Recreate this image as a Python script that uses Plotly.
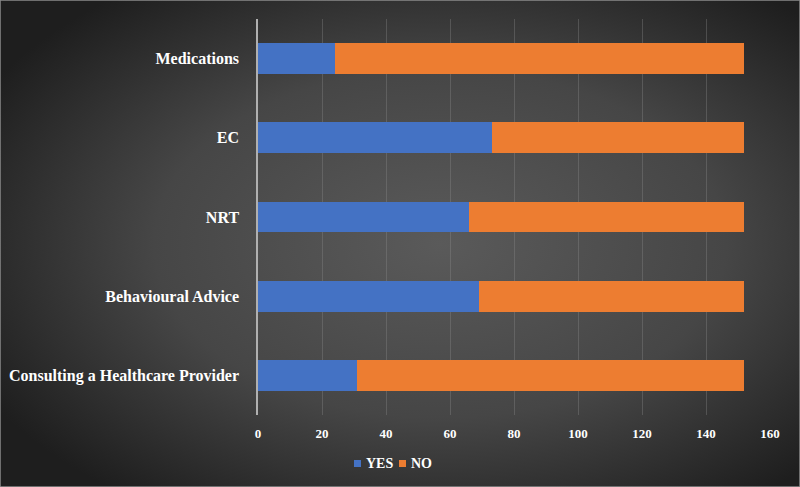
import base64
import plotly.graph_objects as go

categories = ["Consulting a Healthcare Provider", "Behavioural Advice", "NRT", "EC", "Medications"]
yes_values = [31, 69, 66, 73, 24]
no_values = [121, 83, 86, 79, 128]
x_ticks = [0, 20, 40, 60, 80, 100, 120, 140, 160]
series_names = ["YES", "NO"]
series_colors = ["#4472C4", "#ED7D31"]

W, H = 800, 487
svg = f'''<svg xmlns="http://www.w3.org/2000/svg" width="{W}" height="{H}">
<defs><radialGradient id="g" cx="55%" cy="50%" r="65%">
<stop offset="0%" stop-color="#5a5a5a"/><stop offset="55%" stop-color="#464646"/><stop offset="100%" stop-color="#1e1e1e"/>
</radialGradient></defs><rect width="{W}" height="{H}" fill="url(#g)"/></svg>'''
bg_uri = "data:image/svg+xml;base64," + base64.b64encode(svg.encode()).decode()

font_family = "Liberation Serif, Times New Roman, serif"

fig = go.Figure()
for name, vals, col in zip(series_names, [yes_values, no_values], series_colors):
    fig.add_trace(go.Bar(y=categories, x=vals, name=name, orientation="h",
                         marker=dict(color=col, line=dict(width=0)), showlegend=False))

x0, x1 = 258 / W, 770 / W
y0, y1 = 1 - 415 / H, 1 - 19 / H

# custom compact legend (square + label)
legend_shapes = []
legend_annots = []
leg_x = [354, 399]
for lx, name, col in zip(leg_x, series_names, series_colors):
    legend_shapes.append(dict(type="rect", xref="paper", yref="paper",
                              x0=lx / W, x1=(lx + 7) / W, y0=1 - 467 / H, y1=1 - 460 / H,
                              fillcolor=col, line=dict(width=0)))
    legend_annots.append(dict(text=name, xref="paper", yref="paper", x=(lx + 10) / W, y=1 - 463.5 / H,
                              xanchor="left", yanchor="middle", showarrow=False,
                              font=dict(size=14, family=font_family, color="white", weight="bold")))

fig.update_layout(
    width=W, height=H, autosize=False,
    margin=dict(l=0, r=0, t=0, b=0, pad=0, autoexpand=False),
    barmode="stack",
    bargap=0.61,
    paper_bgcolor="#3a3a3a",
    plot_bgcolor="rgba(0,0,0,0)",
    font=dict(family=font_family, color="white", weight="bold"),
    images=[dict(source=bg_uri, xref="paper", yref="paper", x=0, y=1, sizex=1, sizey=1,
                 sizing="stretch", layer="below", xanchor="left", yanchor="top")],
    xaxis=dict(domain=[x0, x1], range=[0, 160], tickvals=x_ticks, showgrid=True, automargin=False,
               gridcolor="rgba(140,140,140,0.35)", gridwidth=1, zeroline=False,
               showline=False, ticks="", tickfont=dict(size=13, family=font_family, color="white", weight="bold"),
               ticklabelstandoff=9, fixedrange=True),
    yaxis=dict(domain=[y0, y1], range=[-0.5, 4.5], showgrid=False, zeroline=False, automargin=False,
               showline=True, linecolor="#b0b0b0", linewidth=1.5,
               ticks="", tickfont=dict(size=16, family=font_family, color="white", weight="bold"),
               ticklabelstandoff=14, fixedrange=True),
    shapes=[dict(type="rect", xref="paper", yref="paper", x0=0, y0=0, x1=1, y1=1,
                 line=dict(color="#8a8a8a", width=1.5), fillcolor="rgba(0,0,0,0)")] + legend_shapes,
    annotations=legend_annots,
    showlegend=False,
)

fig.write_html("out.html", config=dict(displayModeBar=False, responsive=False),
               post_script="document.body.style.margin='0';document.body.style.padding='0';document.body.style.overflow='hidden';")
